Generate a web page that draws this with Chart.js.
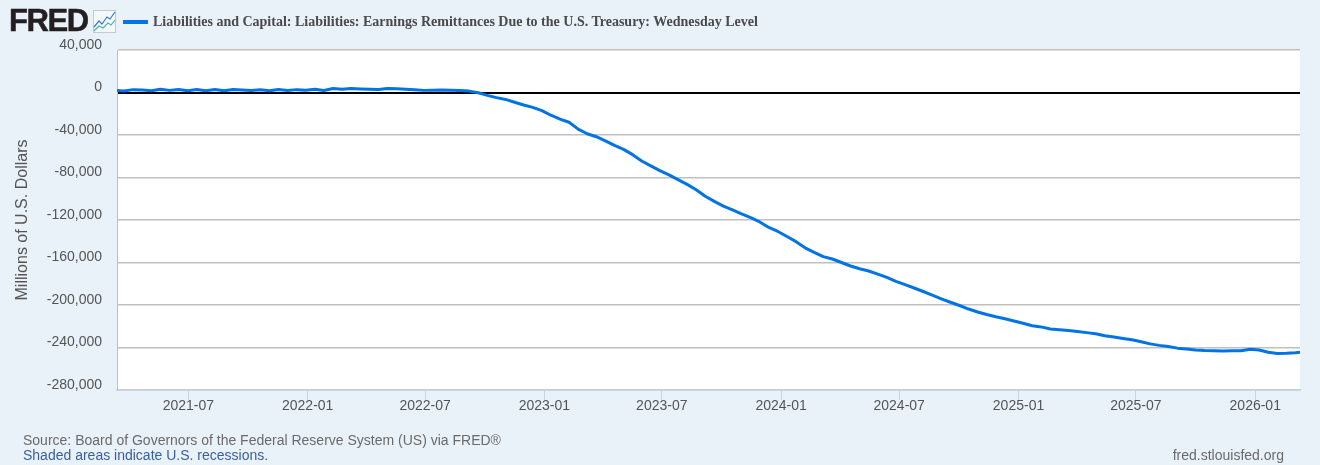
<!DOCTYPE html>
<html>
<head>
<meta charset="utf-8">
<style>
html,body{margin:0;padding:0;background:#e9f1f9;width:1320px;height:465px;overflow:hidden}
#wrap{position:relative;width:1320px;height:465px}
canvas{position:absolute;left:0;top:0}
.t{position:absolute;white-space:nowrap;font-family:"Liberation Sans",Arial,sans-serif}
</style>
<script src="https://cdn.jsdelivr.net/npm/chart.js@4"></script>
</head>
<body>
<div id="wrap">
<canvas id="c" width="1320" height="465" style="width:1320px;height:465px"></canvas>
<div class="t" style="left:9px;top:4px;font-size:31px;line-height:34px;font-weight:bold;letter-spacing:-1.4px;color:#231f20;-webkit-text-stroke:.5px #231f20">FRED</div>
<svg style="position:absolute;left:93px;top:10px" width="23" height="23" viewBox="0 0 23 23">
<rect x="0.5" y="0.5" width="22" height="22" fill="#f4f8fb" stroke="#c8c8c8"/>
<polyline points="1,17 6,11 9,14 14,7 17,9 22,2" fill="none" stroke="#2f7fd6" stroke-width="1.2"/>
<polyline points="1,21 6,16 10,18 15,13 18,15 22,10" fill="none" stroke="#4fb5a0" stroke-width="1.2"/>
</svg>
<div style="position:absolute;left:123px;top:20px;width:25px;height:3.5px;background:#0073e6"></div>
<div id="legendText" class="t" style="left:153px;top:14px;line-height:16px;font-family:'Liberation Serif',serif;font-weight:bold;font-size:14px;color:#4a4a4a"></div>
<div class="t" style="left:23px;top:432px;line-height:16px;font-size:14px;color:#6b6b6b">Source: Board of Governors of the Federal Reserve System (US) via FRED®</div>
<div class="t" style="left:23px;top:447px;line-height:16px;font-size:14px;color:#3a5f9f">Shaded areas indicate U.S. recessions.</div>
<div class="t" style="right:36px;top:447px;line-height:16px;font-size:14px;color:#6b6b6b">fred.stlouisfed.org</div>
</div>
<script>
const seriesName = 'Liabilities and Capital: Liabilities: Earnings Remittances Due to the U.S. Treasury: Wednesday Level';
const yAxisTitle = 'Millions of U.S. Dollars';
const yTickValues = [40000,0,-40000,-80000,-120000,-160000,-200000,-240000,-280000];
const xTickDates = ['2021-07-01','2022-01-01','2022-07-01','2023-01-01','2023-07-01','2024-01-01','2024-07-01','2025-01-01','2025-07-01','2026-01-01'];
const dates = [
'2021-03-10','2021-03-24','2021-04-07','2021-04-21','2021-05-05','2021-05-19','2021-06-02','2021-06-16','2021-06-30','2021-07-14','2021-07-28',
'2021-08-11','2021-08-25','2021-09-08','2021-09-22','2021-10-06','2021-10-20','2021-11-03','2021-11-17','2021-12-01','2021-12-15','2021-12-29',
'2022-01-12','2022-01-26','2022-02-09','2022-02-23','2022-03-09','2022-03-23','2022-04-06','2022-04-20','2022-05-04','2022-05-18','2022-06-01',
'2022-06-15','2022-06-29','2022-07-13','2022-07-27','2022-08-10','2022-08-24','2022-09-07','2022-09-21','2022-10-05','2022-10-19','2022-11-02',
'2022-11-16','2022-11-30','2022-12-14','2022-12-28',
'2023-01-11','2023-01-25','2023-02-08','2023-02-22','2023-03-08','2023-03-22','2023-04-05','2023-04-19','2023-05-03','2023-05-17','2023-05-31',
'2023-06-14','2023-06-28','2023-07-12','2023-07-26','2023-08-09','2023-08-23','2023-09-06','2023-09-20','2023-10-04','2023-10-18','2023-11-01',
'2023-11-15','2023-11-29','2023-12-13','2023-12-27',
'2024-01-10','2024-01-24','2024-02-07','2024-02-21','2024-03-06','2024-03-20','2024-04-03','2024-04-17','2024-05-01','2024-05-15','2024-05-29',
'2024-06-12','2024-06-26','2024-07-10','2024-07-24','2024-08-07','2024-08-21','2024-09-04','2024-09-18','2024-10-02','2024-10-16','2024-10-30',
'2024-11-13','2024-11-27','2024-12-11','2024-12-25',
'2025-01-08','2025-01-22','2025-02-05','2025-02-19','2025-03-05','2025-03-19','2025-04-02','2025-04-16','2025-04-30','2025-05-14','2025-05-28',
'2025-06-11','2025-06-25','2025-07-09','2025-07-23','2025-08-06','2025-08-20','2025-09-03','2025-09-17','2025-10-01','2025-10-15','2025-10-29',
'2025-11-12','2025-11-26','2025-12-10','2025-12-24',
'2026-01-07','2026-01-21','2026-02-04','2026-02-18','2026-03-04','2026-03-11'];
const values = [
1900,1400,2700,2300,1600,3000,2000,2900,1600,2800,1700,
2900,1700,2900,2300,1800,2500,1700,2800,1900,2700,2100,
3100,1900,3700,3000,3800,3400,3100,2800,3800,3600,3100,
2700,2000,2200,2300,2100,1800,1300,-300,-2700,-4800,-6500,
-9200,-11800,-14000,-17000,
-21400,-25000,-28000,-34500,-38800,-41600,-45500,-49800,-53500,-58500,-64500,
-69000,-73500,-77500,-82000,-86500,-91500,-97700,-102500,-107000,-110400,-114200,
-117700,-121800,-127000,-130800,
-135500,-140400,-146200,-150500,-154500,-156700,-160000,-163300,-165900,-168000,-171000,
-174000,-177800,-180900,-184000,-187300,-190700,-194300,-197400,-200500,-203800,-206600,
-209000,-211100,-213000,-215000,
-217200,-219500,-220600,-222600,-223300,-223900,-225000,-226000,-227000,-228900,-230200,
-231500,-232700,-234600,-236600,-238000,-239100,-240600,-241500,-242400,-242800,-243000,
-243200,-243000,-243100,-241600,
-242300,-244500,-245600,-245400,-245000,-244500];

document.getElementById('legendText').textContent = seriesName;

const dayOf = s => Date.parse(s + 'T00:00:00Z') / 86400000;
const points = dates.map((d, i) => ({x: dayOf(d), y: values[i]}));
const tickLabel = {};
xTickDates.forEach(d => { tickLabel[dayOf(d)] = d.slice(0, 7); });
const FONT = '"Liberation Sans", Arial, sans-serif';

const plotBg = {
  id: 'plotBg',
  beforeDraw(chart) {
    const a = chart.chartArea, c = chart.ctx;
    c.save();
    c.fillStyle = '#ffffff';
    c.fillRect(a.left, a.top, a.right - a.left, a.bottom - a.top);
    c.restore();
  }
};

new Chart(document.getElementById('c'), {
  type: 'line',
  data: { datasets: [{ label: seriesName, data: points, borderColor: '#0073e6', borderWidth: 3, pointRadius: 0, tension: 0, fill: false, borderJoinStyle: 'round' }] },
  options: {
    responsive: false,
    animation: false,
    events: [],
    layout: { padding: { left: 0, right: 20, top: 50, bottom: 0 } },
    plugins: { legend: { display: false }, title: { display: false }, tooltip: { enabled: false } },
    scales: {
      x: {
        type: 'linear',
        min: dayOf('2021-03-13'),
        max: dayOf('2026-03-11'),
        afterBuildTicks(s) { s.ticks = xTickDates.map(d => ({ value: dayOf(d) })); },
        afterFit(s) { s.height = 75; },
        grid: { display: true, drawOnChartArea: false, drawTicks: true, tickLength: 10, tickColor: '#c6d4e6', tickWidth: 1 },
        border: { display: true, color: '#c6d0e4', width: 1.5 },
        ticks: {
          autoSkip: false, maxRotation: 0, minRotation: 0, padding: -2,
          color: '#555555', font: { family: FONT, size: 14 },
          callback(v) { return tickLabel[v] || ''; }
        }
      },
      y: {
        type: 'linear',
        min: -280000,
        max: 40000,
        afterBuildTicks(s) { s.ticks = yTickValues.map(v => ({ value: v })); },
        afterFit(s) { s.width = 117; },
        grid: {
          display: true, drawTicks: false,
          color(ctx) { return ctx.tick && ctx.tick.value === 0 ? '#000000' : '#c0c0c0'; },
          lineWidth(ctx) { return ctx.tick && ctx.tick.value === 0 ? 2 : 1.5; }
        },
        border: { display: true, color: '#c0c0c0', width: 1 },
        title: { display: true, text: yAxisTitle, color: '#555555', font: { family: FONT, size: 16 }, padding: { top: 13, bottom: 0 } },
        ticks: {
          autoSkip: false, padding: 15, labelOffset: -5,
          color: '#555555', font: { family: FONT, size: 14 },
          callback(v) { return v.toLocaleString('en-US'); }
        }
      }
    }
  },
  plugins: [plotBg]
});
</script>
</body>
</html>
